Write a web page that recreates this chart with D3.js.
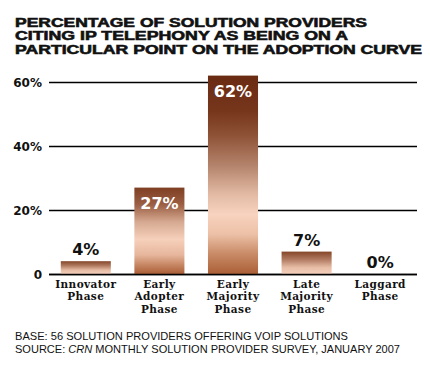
<!DOCTYPE html>
<html>
<head>
<meta charset="utf-8">
<script src="https://cdn.jsdelivr.net/npm/d3@7"></script>
<style>
  html, body { margin: 0; padding: 0; background: #fff; }
  svg { display: block; }
</style>
</head>
<body>
<svg id="chart" width="430" height="367"></svg>
<script>
const titleLines = [
  "PERCENTAGE OF SOLUTION PROVIDERS",
  "CITING IP TELEPHONY AS BEING ON A",
  "PARTICULAR POINT ON THE ADOPTION CURVE"
];
const categories = [
  ["Innovator", "Phase"],
  ["Early", "Adopter", "Phase"],
  ["Early", "Majority", "Phase"],
  ["Late", "Majority", "Phase"],
  ["Laggard", "Phase"]
];
const values = [4, 27, 62, 7, 0];
const tickValues = [0, 20, 40, 60];
const tickLabels = ["0", "20%", "40%", "60%"];
const footBase = "BASE: 56 SOLUTION PROVIDERS OFFERING VOIP SOLUTIONS";
const footSource = ["SOURCE: ", "CRN", " MONTHLY SOLUTION PROVIDER SURVEY, JANUARY 2007"];

const svg = d3.select("#chart");
const keys = categories.map((c, i) => "c" + i);

const x = d3.scaleBand().domain(keys).range([49, 417]).paddingInner(0.32).paddingOuter(0.16);
const y = d3.scaleLinear().domain([0, 60]).range([274, 82]);

// gradients
const defs = svg.append("defs");
function grad(id, stops) {
  const g = defs.append("linearGradient").attr("id", id)
    .attr("x1", 0).attr("y1", 0).attr("x2", 0).attr("y2", 1);
  stops.forEach(s => g.append("stop").attr("offset", s[0]).attr("stop-color", s[1]));
}
grad("gTall", [[0, "#6a2b13"], [0.18, "#76361c"], [0.3, "#8e5236"], [0.45, "#b3826a"], [0.6, "#e3bba5"], [0.7, "#f8d3bf"], [0.8, "#ecc0a6"], [0.9, "#c88a66"], [1, "#aa5f36"]]);
grad("gMid", [[0, "#7e3e22"], [0.2, "#9c6045"], [0.4, "#d6aa92"], [0.6, "#f6d0bb"], [0.78, "#e6b69c"], [0.9, "#c58460"], [1, "#a95e37"]]);
grad("gShort", [[0, "#844528"], [0.35, "#b07a60"], [0.7, "#e6bca5"], [1, "#f6d1bd"]]);
const gradFor = v => v > 40 ? "url(#gTall)" : v > 15 ? "url(#gMid)" : "url(#gShort)";

// title
const t = svg.append("g").attr("font-family", "'Liberation Sans', Arial, sans-serif")
  .attr("font-weight", "bold").attr("font-size", 12).attr("fill", "#111")
  .attr("stroke", "#111").attr("stroke-width", 0.55);
const titleWidths = [352, 333, 407];
titleLines.forEach((line, i) => {
  t.append("text").attr("x", 15).attr("y", 26.5 + i * 13.5).text(line)
    .attr("textLength", titleWidths[i]).attr("lengthAdjust", "spacingAndGlyphs");
});

// gridlines
svg.append("g").selectAll("line").data(tickValues).join("line")
  .attr("x1", 49).attr("x2", 417)
  .attr("y1", d => y(d) + 0.5).attr("y2", d => y(d) + 0.5)
  .attr("stroke", "#000").attr("stroke-width", 1.3);

// y tick labels
svg.append("g").selectAll("text").data(tickValues).join("text")
  .attr("x", 42).attr("y", d => y(d) + 5)
  .attr("text-anchor", "end")
  .attr("font-family", "'DejaVu Sans', sans-serif").attr("font-weight", "bold").attr("font-size", 12)
  .attr("fill", "#111")
  .text((d, i) => tickLabels[i]);

// bars
svg.append("g").selectAll("rect").data(values).join("rect")
  .attr("x", (d, i) => x(keys[i]))
  .attr("width", x.bandwidth())
  .attr("y", d => y(d))
  .attr("height", d => y(0) - y(d))
  .attr("fill", d => gradFor(d));

// baseline on top
svg.append("line").attr("x1", 49).attr("x2", 417).attr("y1", y(0) + 0.5).attr("y2", y(0) + 0.5)
  .attr("stroke", "#000").attr("stroke-width", 1.5);

// value labels
svg.append("g").selectAll("text").data(values).join("text")
  .attr("x", (d, i) => x(keys[i]) + x.bandwidth() / 2)
  .attr("y", d => d > 15 ? y(d) + 21 : y(d) - 6)
  .attr("text-anchor", "middle")
  .attr("font-family", "'DejaVu Sans', sans-serif").attr("font-weight", "bold").attr("font-size", 16)
  .attr("fill", d => d > 15 ? "#fff" : "#111")
  .text(d => d + "%");

// category labels
const cat = svg.append("g").attr("font-family", "'DejaVu Serif', serif").attr("font-weight", "bold")
  .attr("font-size", 10.5).attr("letter-spacing", 0.4).attr("fill", "#111").attr("text-anchor", "middle");
categories.forEach((lines, i) => {
  const txt = cat.append("text").attr("x", x(keys[i]) + x.bandwidth() / 2);
  lines.forEach((l, j) => txt.append("tspan").attr("x", x(keys[i]) + x.bandwidth() / 2)
    .attr("y", 288 + j * 12.3).text(l));
});

// footnotes
const f = svg.append("g").attr("font-family", "'Liberation Sans', Arial, sans-serif")
  .attr("font-size", 11).attr("fill", "#111");
f.append("text").attr("x", 15).attr("y", 340).text(footBase)
  .attr("textLength", 333).attr("lengthAdjust", "spacingAndGlyphs");
const src = f.append("text").attr("x", 15).attr("y", 352.5)
  .attr("textLength", 385).attr("lengthAdjust", "spacingAndGlyphs");
footSource.forEach((s, i) => src.append("tspan").attr("font-style", i === 1 ? "italic" : "normal").text(s));
</script>
</body>
</html>
